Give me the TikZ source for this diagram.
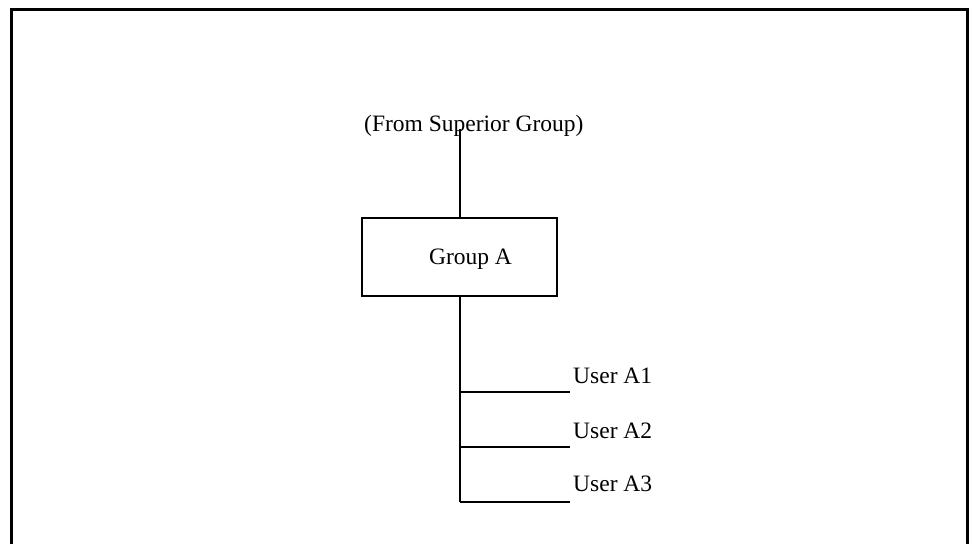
\documentclass[tikz,border=0pt]{standalone}
\usepackage{fontspec}
\setmainfont{Liberation Serif}
\begin{document}
\begin{tikzpicture}[x=1pt,y=-1pt,
  txt/.style={inner sep=0pt,font=\fontsize{23.5}{28}\selectfont},
  wire/.style={line width=2pt},
  frameline/.style={line width=3pt},
  groupbox/.style={draw,line width=2pt,minimum width=195pt,minimum height=78pt,inner sep=0pt}]
\useasboundingbox (0,0) rectangle (973,544);
% outer frame, open at the bottom
\draw[frameline] (11.5,544) -- (11.5,9.5) -- (967,9.5) -- (967,544);

% superior group label and link
\node[txt,anchor=base west] (sup) at (364,131) {(From Superior Group)};
\coordinate (top) at (460,129);
\node[groupbox] (ga) at (459.5,257) {};
\node[txt,anchor=base] (galabel) at (470.5,264) {Group A};
\draw[wire] (top) -- (ga.north -| top);

% trunk and user branches
\coordinate (j1) at (460,392);
\coordinate (j2) at (460,447);
\coordinate (j3) at (460,502);
\coordinate (e1) at (570,392);
\coordinate (e2) at (570,447);
\coordinate (e3) at (570,502);
\draw[wire] (ga.south -| top) -- (j3);
\draw[wire] (j1) -- (e1);
\draw[wire] (j2) -- (e2);
\draw[wire] (j3) -- (e3);
\node[txt,anchor=base west] (u1) at (573,383) {User A1};
\node[txt,anchor=base west] (u2) at (573,438) {User A2};
\node[txt,anchor=base west] (u3) at (573,491) {User A3};
\end{tikzpicture}
\end{document}
